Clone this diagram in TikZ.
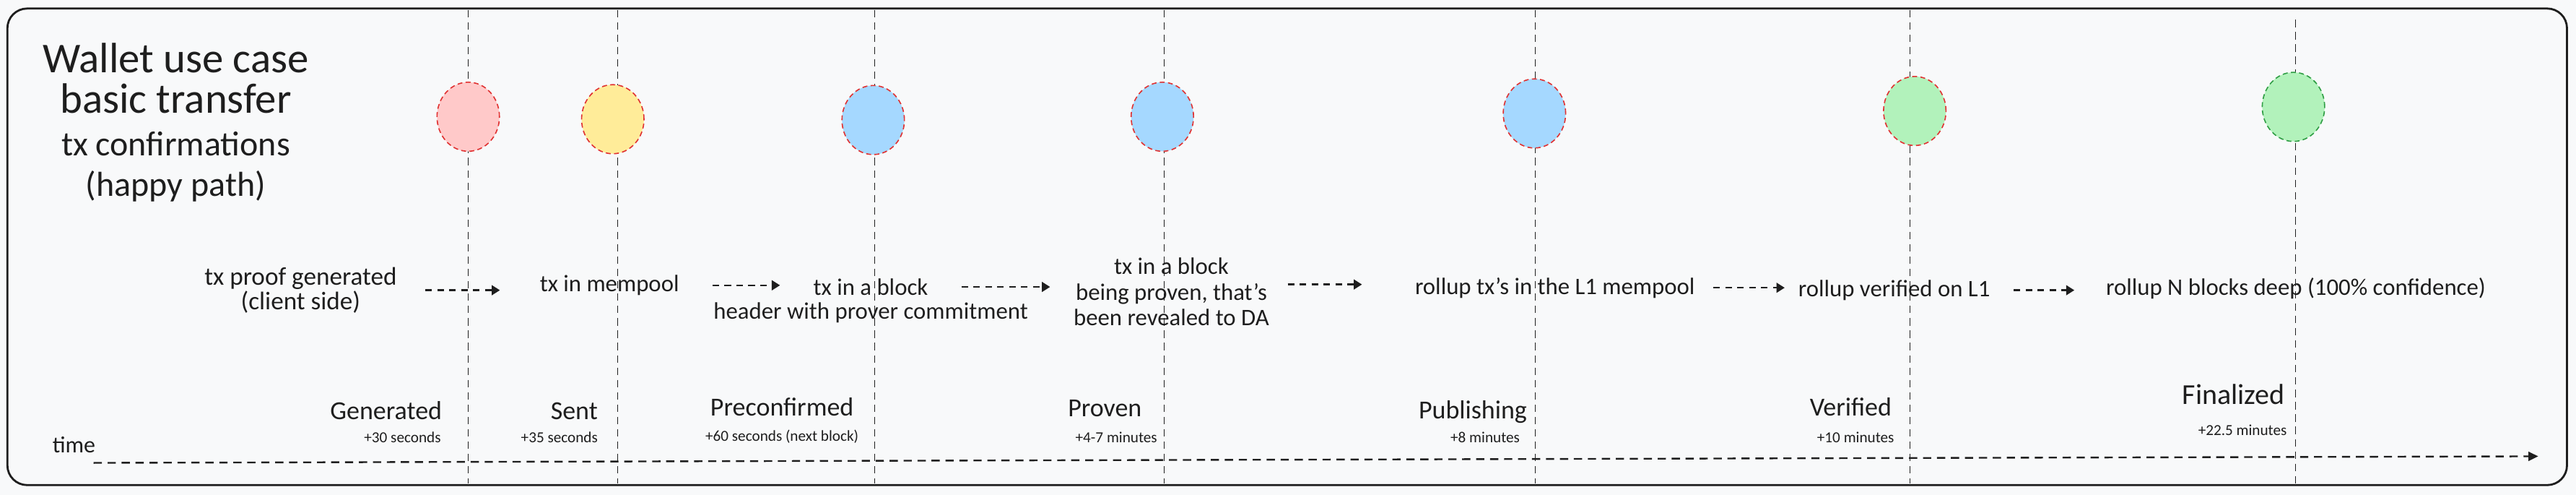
\documentclass[tikz,border=0pt]{standalone}
\usepackage{fontspec}
\setmainfont{Carlito}
\usepackage{tikz}
\usetikzlibrary{arrows.meta,positioning,shapes.geometric,calc}

\definecolor{paper}{HTML}{F8F9FA}
\definecolor{ink}{HTML}{1E1E1E}
\definecolor{redfill}{HTML}{FFC9C9}
\definecolor{yellowfill}{HTML}{FFEC99}
\definecolor{bluefill}{HTML}{A5D8FF}
\definecolor{greenfill}{HTML}{B2F2BB}
\definecolor{redline}{HTML}{E03131}
\definecolor{greenline}{HTML}{2F9E44}

\tikzset{
  stage/.style={inner sep=0pt,align=center,text=ink,font=\fontsize{8.2}{8.8}\selectfont},
  status/.style={inner sep=0pt,text=ink,font=\fontsize{9}{10}\selectfont},
  delay/.style={inner sep=0pt,text=ink,font=\fontsize{5.3}{6}\selectfont},
  badge/.style={ellipse,draw=redline,line width=0.4pt,dash pattern=on 0.6mm off 0.4mm,
    minimum width=7.6mm,minimum height=8.4mm,inner sep=0pt},
  flow/.style={draw=ink,line width=0.6pt,dash pattern=on 0.8mm off 0.65mm,
    -{Triangle[length=1mm,width=1.2mm]}},
  guide/.style={draw=ink,line width=0.35pt,dash pattern=on 0.9mm off 0.6mm},
}

\begin{document}
\begin{tikzpicture}[x=0.2mm,y=-0.2mm]

  \fill[paper] (0,0) rectangle (1568,301);
  \draw[ink,line width=0.7pt,rounded corners=2.4mm] (4.5,5.2) rectangle (1562.5,295);

  % time markers
  \foreach \x in {285,376,532.5,708.5,934.5,1162.5}
    \draw[guide] (\x,6) -- (\x,294);
  \draw[guide] (1397.2,12) -- (1397.2,294);

  \node (title) [text=ink,align=center,font=\fontsize{14.7}{14}\selectfont] at (107,47.5) {Wallet use case\\basic transfer};
  \node (subtitle) [text=ink,align=center,font=\fontsize{12}{13.9}\selectfont] at (107,101.5) {tx confirmations\\(happy path)};

  \node (c1) [badge,fill=redfill]                    at (285,71)    {};
  \node (c2) [badge,fill=yellowfill]                 at (373,72.5)  {};
  \node (c3) [badge,fill=bluefill]                   at (531.5,73)  {};
  \node (c4) [badge,fill=bluefill]                   at (707.5,71)  {};
  \node (c5) [badge,fill=bluefill]                   at (934,69)    {};
  \node (c6) [badge,fill=greenfill]                  at (1165.5,67.5) {};
  \node (c7) [badge,fill=greenfill,draw=greenline]   at (1396,65)   {};

  \node (gen)    [stage,font=\fontsize{8.8}{8.5}\selectfont] at (183,176.5) {tx proof generated\\(client side)};
  \node (pool)   [stage] at (371,173.5)   {tx in mempool};
  \node (blk)    [stage] at (530,174.5)   {tx in a block};
  \node (hdr)    [stage] at (530,190)     {header with prover commitment};
  \node (prov)   [stage] at (713,177.5)   {tx in a block\\being proven, that's\\been revealed to DA};
  \node (l1pool) [stage] at (946.5,175)   {rollup tx's in the L1 mempool};
  \node (l1ver)  [stage] at (1153,176.5)  {rollup verified on L1};
  \node (final)  [stage] at (1397.5,175.5) {rollup N blocks deep (100\% confidence)};

  \draw[flow,shorten <=3.4mm,shorten >=4.8mm] (gen.east) -- (gen.east -| pool.west);
  \draw[flow,shorten <=4mm,shorten >=4mm] (pool.east) -- (pool.east -| blk.west);
  \draw[flow,shorten <=4mm,shorten >=2.8mm] (blk.east) -- (blk.east -| prov.west);
  \draw[flow,shorten <=2.2mm,shorten >=6.4mm] ([yshift=0.9mm]prov.east) -- ([yshift=0.9mm]prov.east -| l1pool.west);
  \draw[flow,shorten <=2.2mm,shorten >=1.6mm] (l1pool.east) -- (l1pool.east -| l1ver.west);
  \draw[flow,shorten <=2.8mm,shorten >=3.8mm] (l1ver.east) -- (l1ver.east -| final.west);

  \node (sgen)  [status] at (235,249.7)  {Generated};
  \node (dgen)  [delay]  at (245,266)    {+30 seconds};
  \node (ssent) [status] at (349.5,250)  {Sent};
  \node (dsent) [delay]  at (340.5,266)  {+35 seconds};
  \node (spre)  [status] at (476,247.5)  {Preconfirmed};
  \node (dpre)  [delay]  at (476,265.5)  {+60 seconds (next block)};
  \node (sprov) [status] at (672.5,248.4) {Proven};
  \node (dprov) [delay]  at (679.5,266)  {+4-7 minutes};
  \node (spub)  [status] at (896.5,250.5) {Publishing};
  \node (dpub)  [delay]  at (904,266)    {+8 minutes};
  \node (sver)  [status] at (1126.5,247.5) {Verified};
  \node (dver)  [delay]  at (1129.5,266) {+10 minutes};
  \node (sfin)  [status,font=\fontsize{10}{11}\selectfont] at (1359.5,240) {Finalized};
  \node (dfin)  [delay]  at (1365,261.5) {+22.5 minutes};

  % time axis
  \node (time) [inner sep=0pt,text=ink,font=\fontsize{8}{9}\selectfont] at (45,270.6) {time};
  \coordinate (t0) at (57,281.5);
  \coordinate (t1) at (1545,277.5);
  \draw[ink,line width=0.6pt,dash pattern=on 1mm off 0.7mm,-{Triangle[length=1.2mm,width=1.1mm]}] (t0) -- (t1);

\end{tikzpicture}
\end{document}
